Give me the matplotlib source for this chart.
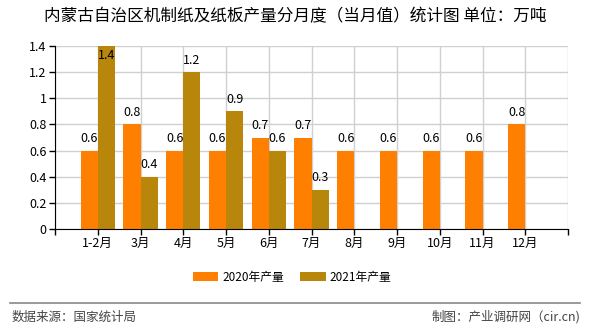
import numpy as np
import matplotlib
matplotlib.use('Agg')
from matplotlib import pyplot as plt

plt.rcParams['font.family'] = ['Noto Sans CJK SC', 'DejaVu Sans']

months = ['1-2月', '3月', '4月', '5月', '6月', '7月', '8月', '9月', '10月', '11月', '12月']
prod_2020 = [0.6, 0.8, 0.6, 0.6, 0.7, 0.7, 0.6, 0.6, 0.6, 0.6, 0.8]
prod_2021 = [1.4, 0.4, 1.2, 0.9, 0.6, 0.3, None, None, None, None, None]

c2020 = '#FF8000'
c2021 = '#B8860B'
ymax = 1.4

fig = plt.figure(figsize=(5.9, 3.3), dpi=100)
ax = fig.add_axes([55/590, 1 - 229/330, 513/590, 183/330])

x = np.arange(len(months))
w = 0.4

def label(ax, xs, vals):
    for xi, v in zip(xs, vals):
        if v is None:
            continue
        if v >= ymax - 0.01:
            # value at the top of the axis: put the label inside the bar
            ax.annotate('%g' % v, (xi, ymax), xytext=(0, -2), textcoords='offset points',
                        ha='center', va='top', fontsize=9)
        else:
            ax.annotate('%g' % v, (xi, v), xytext=(0, 4), textcoords='offset points',
                        ha='center', va='bottom', fontsize=9)

v20 = np.array(prod_2020, dtype=float)
v21 = np.array([np.nan if v is None else v for v in prod_2021], dtype=float)
ax.bar(x - w/2, v20, width=w, color=c2020, label='2020年产量', zorder=3)
ax.bar(x + w/2, v21, width=w, color=c2021, label='2021年产量', zorder=3)
label(ax, x - w/2, prod_2020)
label(ax, x + w/2, prod_2021)

ax.set_xlim(-1, len(months))
ax.set_ylim(0, ymax)
ax.set_xticks(np.arange(-1, len(months) + 1))
ax.set_xticklabels([''] + months + [''], fontsize=9)
ax.set_yticks(np.arange(0, 1.41, 0.2))
ax.set_yticklabels(['0', '0.2', '0.4', '0.6', '0.8', '1', '1.2', '1.4'], fontsize=9)
ax.grid(True, color='#d0d0d0', linewidth=1, zorder=0)
ax.tick_params(length=4, width=1, pad=2)
for s in ['top', 'right']:
    ax.spines[s].set_visible(False)
for s in ['left', 'bottom']:
    ax.spines[s].set_color('black')
    ax.spines[s].set_zorder(4)

fig.text(0.5, 1 - 17/330, '内蒙古自治区机制纸及纸板产量分月度（当月值）统计图 单位：万吨',
         ha='center', va='center', fontsize=12)

fig.legend(loc='center', bbox_to_anchor=(0.495, 1 - 277/330), ncol=2, frameon=False,
           fontsize=8.5, handlelength=2.2, handleheight=0.9, columnspacing=1.4, handletextpad=0.3)

fig.add_artist(plt.Line2D([10/590, 580/590], [1 - 303/330] * 2, color='#888888', linewidth=1.2))
fig.text(12/590, 1 - 317/330, '数据来源：国家统计局', ha='left', va='center', fontsize=9, color='#444444')
fig.text(580/590, 1 - 317/330, '制图：产业调研网（cir.cn)', ha='right', va='center', fontsize=9, color='#444444')

fig.savefig('out.png', dpi=100)
